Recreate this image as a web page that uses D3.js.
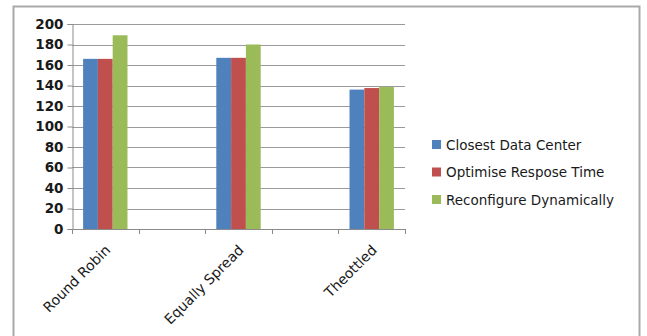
<!DOCTYPE html>
<html>
<head>
<meta charset="utf-8">
<script src="https://cdn.jsdelivr.net/npm/d3@7"></script>
<style>
  body { margin: 0; background: #fff; }
  text { font-family: "DejaVu Sans", sans-serif; fill: #1a1a1a; }
</style>
</head>
<body>
<svg id="chart" width="647" height="336"></svg>
<script>
// chart data
const categories = ["Round Robin", "", "Equally Spread", "", "Theottled"];
const seriesNames = ["Closest Data Center", "Optimise Respose Time", "Reconfigure Dynamically"];
const closest = [166, null, 167, null, 136];
const optimise = [166, null, 167, null, 137.5];
const reconfigure = [189, null, 180, null, 138.5];
const yTicks = [0, 20, 40, 60, 80, 100, 120, 140, 160, 180, 200];

const colors = ["#4f81bd", "#c0504d", "#9bbb59"];
const series = [closest, optimise, reconfigure];

const svg = d3.select("#chart");
const plot = { left: 72, right: 405, top: 24, bottom: 229 };

// outer frame (bottom edge runs off the picture)
svg.append("rect")
   .attr("x", 13.5).attr("y", 6.5)
   .attr("width", 626).attr("height", 340)
   .attr("fill", "#fff")
   .attr("stroke", "#a9a9a9")
   .attr("stroke-width", 2);

const x0 = d3.scaleBand()
   .domain(d3.range(categories.length))
   .range([plot.left, plot.right])
   .paddingInner(1 / 3)
   .paddingOuter(1 / 6);

const x1 = d3.scaleBand()
   .domain(d3.range(series.length))
   .range([0, x0.bandwidth()]);

const y = d3.scaleLinear()
   .domain([0, 200])
   .range([plot.bottom, plot.top]);

// gridlines
svg.append("g")
   .selectAll("line")
   .data(yTicks.filter(d => d > 0))
   .join("line")
   .attr("x1", plot.left).attr("x2", plot.right)
   .attr("y1", d => Math.round(y(d)) + 0.5)
   .attr("y2", d => Math.round(y(d)) + 0.5)
   .attr("stroke", "#9a9a9a");

// bars
const groups = svg.append("g")
   .selectAll("g")
   .data(categories.map((c, i) => i))
   .join("g")
   .attr("transform", i => `translate(${x0(i)},0)`);

groups.selectAll("rect")
   .data(i => series.map((s, k) => ({ k: k, v: s[i] })).filter(d => d.v != null))
   .join("rect")
   .attr("x", d => x1(d.k))
   .attr("width", x1.bandwidth())
   .attr("y", d => y(d.v))
   .attr("height", d => y(0) - y(d.v))
   .attr("fill", d => colors[d.k]);

// y axis
const yAxis = svg.append("g")
   .attr("transform", `translate(${plot.left + 0.5},0)`)
   .call(d3.axisLeft(y).tickValues(yTicks).tickSize(5).tickPadding(4));
yAxis.select(".domain").attr("stroke", "#8a8a8a");
yAxis.selectAll(".tick line").attr("stroke", "#8a8a8a");
yAxis.selectAll(".tick text")
   .attr("font-family", "DejaVu Sans, sans-serif")
   .attr("font-size", 13.5)
   .attr("font-weight", "bold")
   .attr("fill", "#333");

// x axis: ticks sit on the category boundaries
const step = x0.step();
const xAxisG = svg.append("g");
xAxisG.append("line")
   .attr("x1", plot.left).attr("x2", plot.right)
   .attr("y1", plot.bottom + 0.5).attr("y2", plot.bottom + 0.5)
   .attr("stroke", "#8a8a8a");
xAxisG.selectAll("line.tick")
   .data(d3.range(categories.length + 1))
   .join("line")
   .attr("class", "tick")
   .attr("x1", i => Math.round(plot.left + i * step) + 0.5)
   .attr("x2", i => Math.round(plot.left + i * step) + 0.5)
   .attr("y1", plot.bottom)
   .attr("y2", plot.bottom + 5)
   .attr("stroke", "#8a8a8a");

xAxisG.selectAll("text")
   .data(categories.map((c, i) => ({ c: c, i: i })).filter(d => d.c))
   .join("text")
   .attr("transform", d => `translate(${x0(d.i) + x0.bandwidth() / 2 + 6},${plot.bottom + 22}) rotate(-45)`)
   .attr("text-anchor", "end")
   .attr("font-size", 14)
   .text(d => d.c);

// legend
const legend = svg.append("g")
   .selectAll("g")
   .data(seriesNames)
   .join("g")
   .attr("transform", (d, i) => `translate(432,${140 + i * 27.5})`);
legend.append("rect")
   .attr("width", 9).attr("height", 9)
   .attr("fill", (d, i) => colors[i]);
legend.append("text")
   .attr("x", 14).attr("y", 9.5)
   .attr("font-size", 13.5)
   .text(d => d);
</script>
</body>
</html>
